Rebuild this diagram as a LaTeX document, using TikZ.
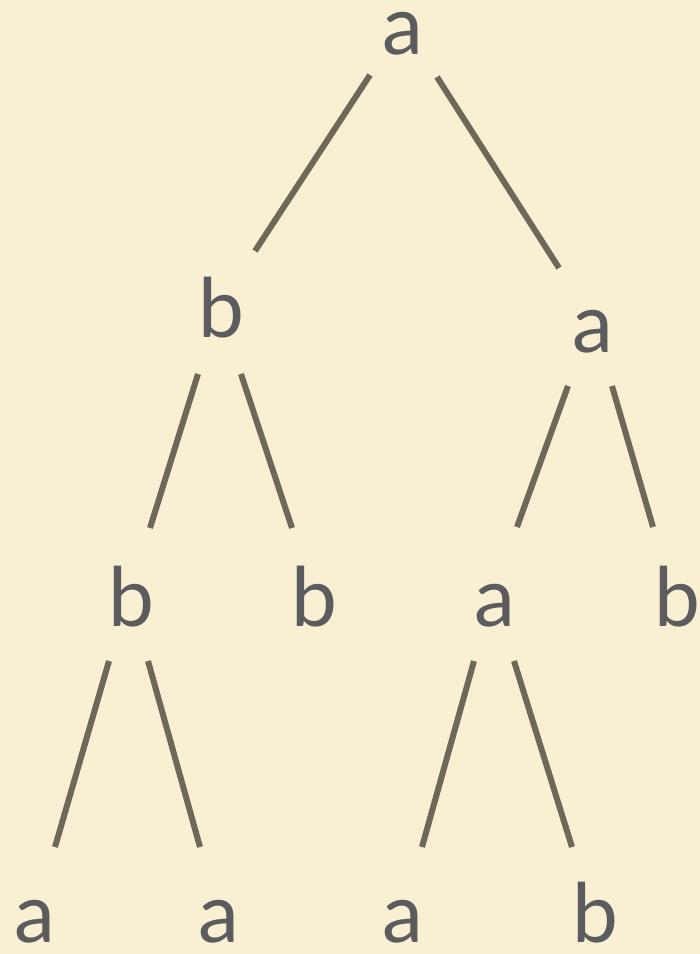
\documentclass[tikz,border=0pt]{standalone}
\usepackage{fontspec}
\setmainfont{Lato}
\usepackage{xcolor}
\definecolor{paper}{HTML}{F9F0D3}
\definecolor{inkgrey}{HTML}{5C5C5E}
\definecolor{branch}{HTML}{6E6858}
\tikzset{
    sym/.style={font=\fontsize{82}{88}\selectfont, text=inkgrey, anchor=base, inner sep=0pt},
    branchline/.style={draw=branch, line width=6pt}
}

\begin{document}
\begin{tikzpicture}[x=1pt,y=1pt]
    \fill[paper] (0,0) rectangle (700,954);
    \useasboundingbox (0,0) rectangle (700,954);
    % letters
    \node[sym] (root) at (403,899) {a};
    \node[sym] (l)    at (221,616) {b};
    \node[sym] (r)    at (593,601) {a};
    \node[sym] (ll)   at (131,327) {b};
    \node[sym] (lr)   at (314,327) {b};
    \node[sym] (rl)   at (495,327) {a};
    \node[sym] (rr)   at (677,327) {b};
    \node[sym] (lll)  at (35,11)   {a};
    \node[sym] (llr)  at (219,11)  {a};
    \node[sym] (rll)  at (403,11)  {a};
    \node[sym] (rlr)  at (595,11)  {b};
    % branches
    \foreach \from/\to/\sx/\sy/\ex/\ey in {
        root/l/-33/-20/34/87, root/r/34/-22/-34/85,
        l/ll/-23/-36/19/99, l/lr/20/-36/-22/99,
        r/rl/-25/-33/22/100, r/rr/19/-33/-24/100,
        ll/lll/-22/-34/20/96, ll/llr/17/-34/-19/96,
        rl/rll/-21/-34/19/96, rl/rlr/19/-34/-23/96} {
        \draw[branchline] ([shift={(\sx,\sy)}]\from.base) -- ([shift={(\ex,\ey)}]\to.base);
    }
\end{tikzpicture}
\end{document}
